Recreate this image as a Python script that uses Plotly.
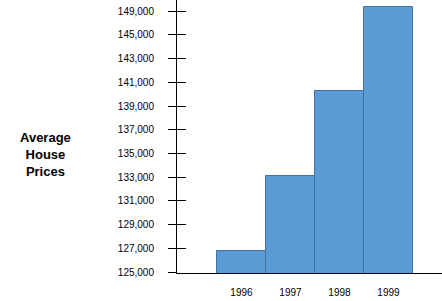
import plotly.graph_objects as go

years = ["1996", "1997", "1998", "1999"]
# bar heights read in axis-position units (ticks evenly spaced)
prices = [126770, 133080, 140300, 147340]
tick_positions = [125000, 127000, 129000, 131000, 133000, 135000, 137000,
                  139000, 141000, 143000, 145000, 147000]
tick_labels = ["125,000", "127,000", "129,000", "131,000", "133,000", "135,000",
               "137,000", "139,000", "141,000", "143,000", "145,000", "149,000"]

fig = go.Figure()
fig.add_trace(go.Bar(
    x=years, y=prices, width=1,
    marker=dict(color="#5B9BD5", line=dict(color="#41719C", width=1)),
))
# invisible trace on second axis to show inner tick halves
fig.add_trace(go.Scatter(x=years, y=prices, yaxis="y2", mode="markers",
                         marker=dict(opacity=0), showlegend=False, hoverinfo="skip"))

yr = [124930, 147930]
fig.update_layout(
    width=442, height=301,
    margin=dict(l=177, r=0, t=0, b=28),
    paper_bgcolor="white", plot_bgcolor="white",
    showlegend=False, bargap=0,
    font=dict(family="Liberation Sans", color="black"),
    xaxis=dict(type="category", range=[-1.316, 4.092], showgrid=False,
               showline=True, linecolor="black", linewidth=1,
               ticks="", tickfont=dict(size=10, color="black"), ticklabelstandoff=10),
    yaxis=dict(range=yr, tickvals=tick_positions, ticktext=tick_labels,
               showgrid=False, zeroline=False, showline=True, linecolor="black",
               linewidth=1, ticks="outside", ticklen=8, tickcolor="black",
               tickfont=dict(size=10, color="black"), ticklabelstandoff=12),
    yaxis2=dict(range=yr, overlaying="y", side="left", tickvals=tick_positions,
                showticklabels=False, showgrid=False, zeroline=False,
                ticks="inside", ticklen=9, tickcolor="black"),
    annotations=[dict(text="<b>Average<br>House<br>Prices</b>",
                      xref="paper", yref="paper", showarrow=False,
                      x=(45 - 177) / 265, y=(273 - 154) / 273,
                      xanchor="center", yanchor="middle",
                      font=dict(size=13, family="Liberation Sans", color="black"),
                      align="center")],
)
fig.write_html("out.html")
